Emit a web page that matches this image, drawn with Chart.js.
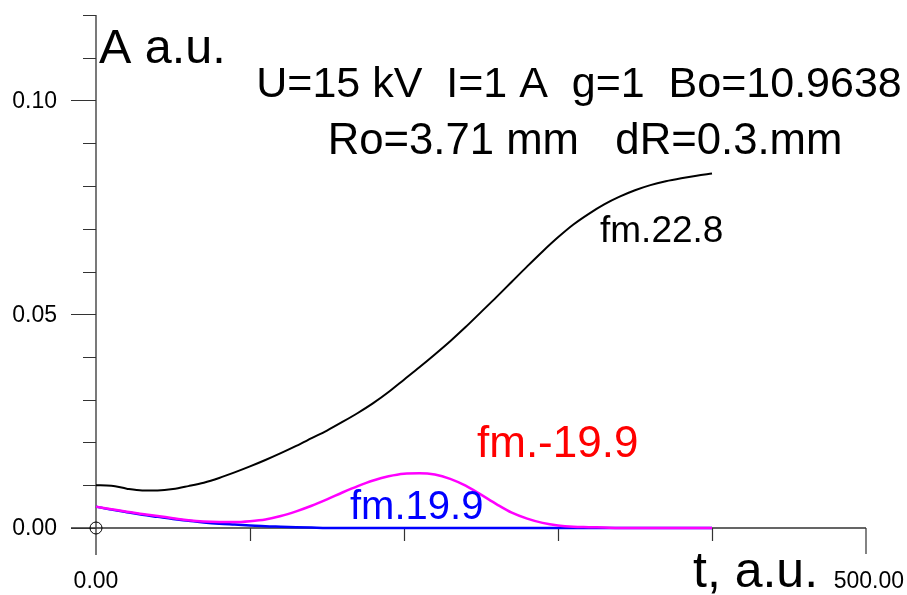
<!DOCTYPE html>
<html>
<head>
<meta charset="utf-8">
<script src="https://cdn.jsdelivr.net/npm/chart.js@4/dist/chart.umd.min.js"></script>
<style>
  html, body { margin: 0; padding: 0; background: #fff; }
  canvas { display: block; }
</style>
</head>
<body>
<canvas id="my-chart" width="907" height="595"></canvas>
<script>
// time samples, a.u.
const times = [
  0, 10, 20, 30, 40, 50, 60, 70, 80, 90,
  100, 110, 120, 130, 140, 150, 160, 170, 180, 190,
  200, 210, 220, 230, 240, 250, 260, 270, 280, 290,
  300, 310, 320, 330, 340, 350, 360, 370, 380, 390, 400,
];

// fm.22.8 (black)
const fm228 = [
  0.0100, 0.0099, 0.0092, 0.0088, 0.0088, 0.0091, 0.0098, 0.0106, 0.0117, 0.0130,
  0.0144, 0.0159, 0.0175, 0.0192, 0.0210, 0.0228, 0.0248, 0.0269, 0.0292, 0.0318,
  0.0347, 0.0376, 0.0406, 0.0437, 0.0470, 0.0505, 0.0540, 0.0576, 0.0612, 0.0647,
  0.0680, 0.0710, 0.0735, 0.0757, 0.0775, 0.0790, 0.0802, 0.0811, 0.0818, 0.0824, 0.0829,
];

// fm.-19.9 (magenta)
const fmMinus199 = [
  0.0050, 0.0044, 0.0038, 0.0033, 0.0028, 0.0023, 0.0018, 0.0015, 0.0014, 0.0014,
  0.0016, 0.0020, 0.0028, 0.0039, 0.0052, 0.0067, 0.0083, 0.0098, 0.0111, 0.0121,
  0.0127, 0.0128, 0.0125, 0.0115, 0.0099, 0.0078, 0.0056, 0.0036, 0.0022, 0.0012,
  0.0006, 0.0003, 0.0002, 0.0001, 0.0000, 0.0000, 0.0000, 0.0000, 0.0000, 0.0000, 0.0000,
];

// fm.19.9 (blue)
const fm199 = [
  0.0050, 0.0043, 0.0037, 0.0031, 0.0026, 0.0021, 0.0017, 0.0013, 0.0010, 0.0008,
  0.0006, 0.0004, 0.0003, 0.0002, 0.0001, 0.0000, 0.0000, 0.0000, 0.0000, 0.0000,
  0.0000, 0.0000, 0.0000, 0.0000, 0.0000, 0.0000, 0.0000, 0.0000, 0.0000, 0.0000,
  0.0000, 0.0000, 0.0000, 0.0000, 0.0000, 0.0000, 0.0000, 0.0000, 0.0000, 0.0000, 0.0000,
];

// axis ticks
const yMajorTicks = [0, 0.05, 0.10];
const yTickLabels = ["0.00", "0.05", "0.10"];
const yMinorTicks = [0.01, 0.02, 0.03, 0.04, 0.06, 0.07, 0.08, 0.09, 0.11, 0.12];
const xMinorTicks = [100, 200, 300, 400];
const xLabelTicks = [0, 500];
const xTickLabels = ["0.00", "500.00"];

const toPoints = (ys) => times.map((t, i) => ({ x: t, y: ys[i] }));

const FONT = "'Liberation Sans', Arial, sans-serif";

const axesPlugin = {
  id: "axes",
  beforeDatasetsDraw(chart) {
    const ctx = chart.ctx;
    const xs = chart.scales.x;
    const ys = chart.scales.y;
    const x0 = xs.getPixelForValue(0);
    const xEnd = xs.getPixelForValue(500);
    const y0 = ys.getPixelForValue(0);
    const yTop = ys.getPixelForValue(0.12);

    ctx.save();
    ctx.strokeStyle = "#333";
    ctx.lineWidth = 1.3;
    ctx.beginPath();
    // y axis, runs below zero
    ctx.moveTo(x0, yTop);
    ctx.lineTo(x0, y0 + 27);
    // x axis, runs left of zero
    ctx.moveTo(x0 - 25, y0);
    ctx.lineTo(xEnd, y0);
    ctx.stroke();

    ctx.lineWidth = 1.2;
    ctx.beginPath();
    yMajorTicks.forEach((v) => {
      const py = Math.round(ys.getPixelForValue(v)) + 0.5;
      ctx.moveTo(x0 - 25, py);
      ctx.lineTo(x0, py);
    });
    yMinorTicks.forEach((v) => {
      const py = Math.round(ys.getPixelForValue(v)) + 0.5;
      ctx.moveTo(x0 - 13, py);
      ctx.lineTo(x0, py);
    });
    xMinorTicks.forEach((v) => {
      const px = Math.round(xs.getPixelForValue(v)) + 0.5;
      ctx.moveTo(px, y0);
      ctx.lineTo(px, y0 + 13);
    });
    ctx.moveTo(xEnd, y0);
    ctx.lineTo(xEnd, y0 + 26);
    ctx.stroke();

    // origin marker
    ctx.strokeStyle = "#000";
    ctx.lineWidth = 1;
    ctx.beginPath();
    ctx.arc(x0, y0, 6, 0, Math.PI * 2);
    ctx.stroke();

    // tick labels
    ctx.fillStyle = "#000";
    ctx.font = "23px " + FONT;
    ctx.textAlign = "right";
    ctx.textBaseline = "middle";
    yMajorTicks.forEach((v, i) => {
      ctx.fillText(yTickLabels[i], x0 - 39, ys.getPixelForValue(v) + 1);
    });
    ctx.textAlign = "center";
    ctx.textBaseline = "alphabetic";
    ctx.fillText(xTickLabels[0], xs.getPixelForValue(xLabelTicks[0]), 588);
    ctx.textAlign = "right";
    ctx.fillText(xTickLabels[1], 904, 588);
    ctx.restore();
  },
  afterDraw(chart) {
    const ctx = chart.ctx;
    ctx.save();
    ctx.textBaseline = "alphabetic";

    ctx.fillStyle = "#000";
    ctx.textAlign = "left";
    ctx.font = "48.5px " + FONT;
    ctx.fillText("A a.u.", 99, 63);
    ctx.font = "50px " + FONT;
    ctx.fillText("t, a.u.", 693, 587);

    ctx.textAlign = "center";
    ctx.font = "43px " + FONT;
    ctx.fillText("U=15 kV  I=1 A  g=1  Bo=10.9638", 579, 97);
    ctx.font = "43.7px " + FONT;
    ctx.fillText("Ro=3.71 mm   dR=0.3.mm", 585, 154);

    ctx.textAlign = "left";
    ctx.font = "37px " + FONT;
    ctx.fillText("fm.22.8", 600, 242);

    ctx.fillStyle = "#ff0000";
    ctx.font = "44px " + FONT;
    ctx.fillText("fm.-19.9", 477, 457);

    ctx.fillStyle = "#0000ff";
    ctx.font = "40px " + FONT;
    ctx.fillText("fm.19.9", 350, 519);
    ctx.restore();
  },
};

const config = {
  type: "line",
  data: {
    datasets: [
      {
        data: toPoints(fm228),
        borderColor: "#000000",
        borderWidth: 2,
      },
      {
        data: toPoints(fmMinus199),
        borderColor: "#ff00ff",
        borderWidth: 2.5,
      },
      {
        data: toPoints(fm199),
        borderColor: "#0000ff",
        borderWidth: 2.5,
      },
    ],
  },
  options: {
    responsive: false,
    animation: false,
    devicePixelRatio: 1,
    layout: {
      padding: { left: 96, right: 41, top: 15, bottom: 67 },
    },
    elements: {
      point: { radius: 0 },
      line: { cubicInterpolationMode: "monotone", fill: false },
    },
    datasets: {
      line: { clip: 10 },
    },
    plugins: {
      legend: { display: false },
      tooltip: { enabled: false },
    },
    scales: {
      x: { type: "linear", min: 0, max: 500, display: false },
      y: { type: "linear", min: 0, max: 0.12, display: false },
    },
  },
  plugins: [axesPlugin],
};

const myChart = new Chart(document.getElementById("my-chart"), config);
</script>
</body>
</html>
